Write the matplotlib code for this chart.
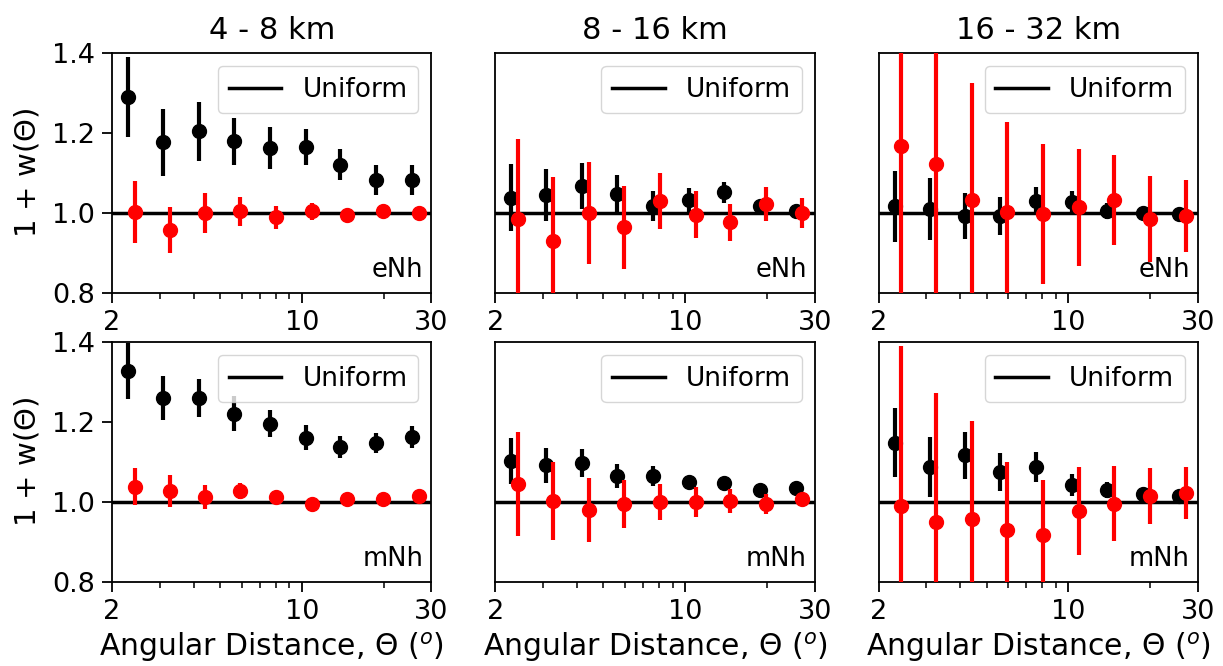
import matplotlib
matplotlib.use('Agg')
import matplotlib.pyplot as plt
import numpy as np
from matplotlib.ticker import NullFormatter

# angular bin centres (degrees)
theta = np.array([2.29, 3.08, 4.17, 5.61, 7.62, 10.33, 13.87, 18.8, 25.5])

ranges = ['4 - 8 km', '8 - 16 km', '16 - 32 km']
samples = ['eNh', 'mNh']

# 1 + w(theta) and errors, black = first set, red = second set
# eNh row
eNh_black = [
    [1.289, 1.177, 1.204, 1.179, 1.163, 1.165, 1.121, 1.083, 1.082],
    [1.038, 1.044, 1.067, 1.048, 1.018, 1.033, 1.052, 1.017, 1.004],
    [1.017, 1.010, 0.992, 0.992, 1.031, 1.027, 1.004, 1.000, 0.998],
]
eNh_black_err = [
    [0.100, 0.084, 0.074, 0.059, 0.052, 0.044, 0.039, 0.037, 0.038],
    [0.084, 0.065, 0.058, 0.046, 0.038, 0.030, 0.026, 0.015, 0.010],
    [0.089, 0.077, 0.058, 0.048, 0.035, 0.028, 0.020, 0.012, 0.012],
]
eNh_red = [
    [1.002, 0.958, 1.000, 1.004, 0.989, 1.004, 0.996, 1.004, 1.001],
    [0.986, 0.931, 1.000, 0.964, 1.029, 0.996, 0.977, 1.023, 1.000],
    [1.168, 1.123, 1.033, 1.002, 0.998, 1.014, 1.033, 0.985, 0.993],
]
eNh_red_err = [
    [0.078, 0.058, 0.049, 0.036, 0.029, 0.022, 0.010, 0.010, 0.010],
    [0.200, 0.158, 0.127, 0.104, 0.070, 0.059, 0.046, 0.042, 0.037],
    [0.450, 0.350, 0.292, 0.225, 0.175, 0.146, 0.113, 0.107, 0.090],
]

# mNh row
mNh_black = [
    [1.328, 1.260, 1.260, 1.221, 1.196, 1.161, 1.138, 1.148, 1.163],
    [1.103, 1.092, 1.098, 1.064, 1.065, 1.050, 1.048, 1.029, 1.035],
    [1.148, 1.088, 1.117, 1.075, 1.088, 1.042, 1.029, 1.021, 1.014],
]
mNh_black_err = [
    [0.070, 0.054, 0.047, 0.043, 0.033, 0.032, 0.028, 0.025, 0.027],
    [0.057, 0.044, 0.035, 0.030, 0.026, 0.015, 0.012, 0.010, 0.010],
    [0.086, 0.075, 0.059, 0.048, 0.038, 0.028, 0.020, 0.012, 0.010],
]
mNh_red = [
    [1.038, 1.028, 1.013, 1.027, 1.013, 0.996, 1.008, 1.007, 1.014],
    [1.046, 1.003, 0.979, 0.996, 1.000, 1.000, 1.003, 0.996, 1.007],
    [0.989, 0.950, 0.958, 0.931, 0.918, 0.977, 0.996, 1.014, 1.023],
]
mNh_red_err = [
    [0.046, 0.040, 0.030, 0.020, 0.010, 0.010, 0.010, 0.010, 0.010],
    [0.130, 0.097, 0.080, 0.060, 0.045, 0.038, 0.030, 0.025, 0.015],
    [0.400, 0.323, 0.245, 0.169, 0.138, 0.110, 0.094, 0.070, 0.065],
]

black = [eNh_black, mNh_black]
black_err = [eNh_black_err, mNh_black_err]
red = [eNh_red, mNh_red]
red_err = [eNh_red_err, mNh_red_err]

shift = 1.058  # small offset so the two sets don't sit on top of each other

fig, axes = plt.subplots(2, 3, figsize=(12.23, 6.66), dpi=100)
fig.subplots_adjust(left=0.0916, right=0.9796, top=0.9204, bottom=0.1261,
                    wspace=0.2, hspace=0.204)

for r in range(2):
    for c in range(3):
        ax = axes[r, c]
        ax.axhline(1.0, color='k', lw=2.5, label='Uniform', zorder=1)
        ax.errorbar(theta, black[r][c], yerr=black_err[r][c], fmt='o',
                    color='k', ms=10, elinewidth=3, capsize=0, zorder=2)
        ax.errorbar(theta * shift, red[r][c], yerr=red_err[r][c], fmt='o',
                    color='red', ms=10, elinewidth=3, capsize=0, zorder=3)
        ax.set_xscale('log')
        ax.set_xlim(2, 30)
        ax.set_ylim(0.8, 1.4)
        ax.set_xticks([2, 10, 30], labels=['2', '10', '30'])
        ax.xaxis.set_minor_formatter(NullFormatter())
        ax.set_yticks([0.8, 1.0, 1.2, 1.4], labels=['0.8', '1.0', '1.2', '1.4'])
        ax.tick_params(labelsize=19.5, width=1.3, length=7, pad=5)
        ax.tick_params(which='minor', width=1.1, length=4)
        for s in ax.spines.values():
            s.set_linewidth(1.3)
        if c > 0:
            ax.tick_params(left=False, labelleft=False)
        else:
            ax.set_ylabel(r'1 + w($\Theta$)', fontsize=21, labelpad=8)
        if r == 0:
            ax.set_title(ranges[c], fontsize=22, pad=10)
        else:
            ax.set_xlabel(r'Angular Distance, $\Theta$ ($^o$)', fontsize=21.5,
                          labelpad=4)
        ax.legend(loc='upper right', fontsize=19)
        ax.text(0.975, 0.04, samples[r], transform=ax.transAxes,
                ha='right', va='bottom', fontsize=18.5)

plt.savefig('out.png')
